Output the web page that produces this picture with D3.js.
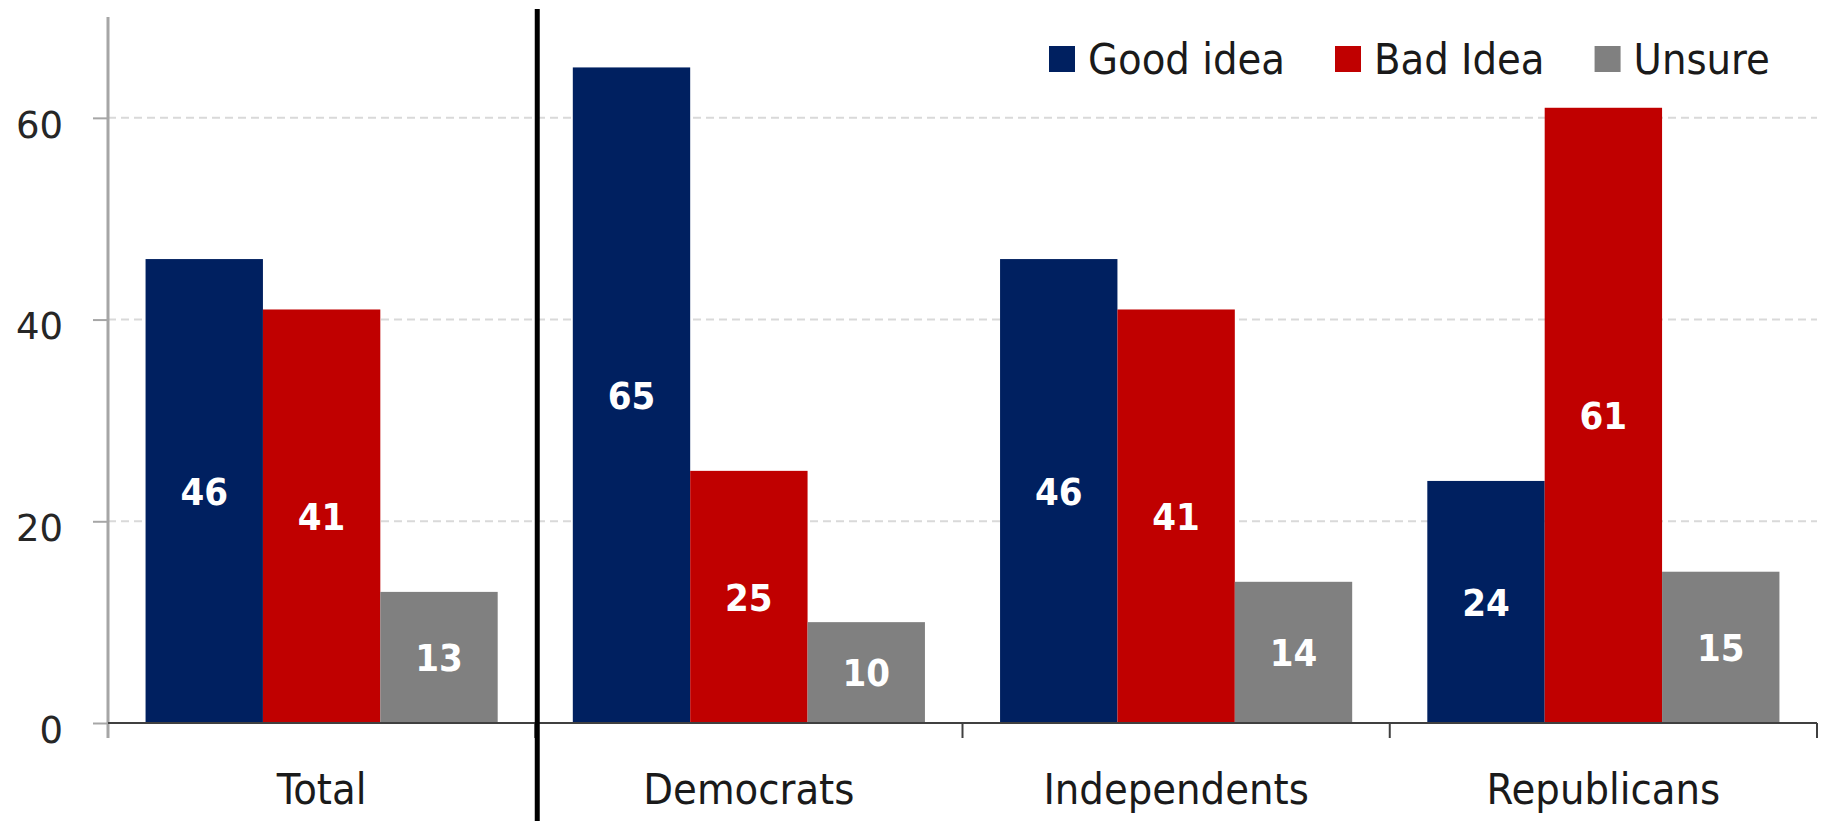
<!DOCTYPE html>
<html>
<head>
<meta charset="utf-8">
<script src="https://cdn.jsdelivr.net/npm/d3@7"></script>
<style>
  html, body { margin: 0; padding: 0; background: #ffffff; }
  svg { display: block; }
</style>
</head>
<body>
<svg id="chart" width="1823" height="821"></svg>
<script>
// Survey responses by party
const categories = ["Total", "Democrats", "Independents", "Republicans"];
const seriesNames = ["Good idea", "Bad Idea", "Unsure"];
const goodIdea = [46, 65, 46, 24];
const badIdea = [41, 25, 41, 61];
const unsure = [13, 10, 14, 15];
const yTicks = [0, 20, 40, 60];
const seriesColors = ["#002060", "#C00000", "#808080"];

const seriesValues = [goodIdea, badIdea, unsure];

const svg = d3.select("#chart");
const W = 1823, H = 821;
const margin = { left: 108, right: 6, top: 17, bottom: 98 };
const plotBottom = H - margin.bottom;   // y of zero line

const x0 = d3.scaleBand()
  .domain(categories)
  .range([margin.left, W - margin.right])
  .padding(0);

const x1 = d3.scaleBand()
  .domain(seriesNames)
  .range([0, x0.bandwidth()])
  .paddingInner(0)
  .paddingOuter(0.32);

const y = d3.scaleLinear()
  .domain([0, 70])
  .range([plotBottom, margin.top]);

const color = d3.scaleOrdinal().domain(seriesNames).range(seriesColors);

const labelFont = "'DejaVu Sans Condensed', 'DejaVu Sans', sans-serif";

// dashed horizontal gridlines
svg.append("g")
  .selectAll("line")
  .data(yTicks.filter(d => d > 0))
  .join("line")
  .attr("x1", margin.left)
  .attr("x2", W - margin.right)
  .attr("y1", d => y(d))
  .attr("y2", d => y(d))
  .attr("stroke", "#d9d9d9")
  .attr("stroke-width", 2)
  .attr("stroke-dasharray", "8,5");

// bars
const rows = categories.map((c, i) => ({
  category: c,
  values: seriesNames.map((s, j) => ({ series: s, value: seriesValues[j][i] }))
}));

const groups = svg.append("g")
  .selectAll("g")
  .data(rows)
  .join("g")
  .attr("transform", d => `translate(${x0(d.category)},0)`);

groups.selectAll("rect")
  .data(d => d.values)
  .join("rect")
  .attr("x", d => x1(d.series))
  .attr("width", x1.bandwidth())
  .attr("y", d => y(d.value))
  .attr("height", d => y(0) - y(d.value))
  .attr("fill", d => color(d.series));

// value labels centred inside each bar
groups.selectAll("text")
  .data(d => d.values)
  .join("text")
  .attr("x", d => x1(d.series) + x1.bandwidth() / 2)
  .attr("y", d => (y(d.value) + y(0)) / 2)
  .attr("dy", "0.36em")
  .attr("text-anchor", "middle")
  .attr("fill", "#ffffff")
  .attr("font-family", labelFont)
  .attr("font-weight", "bold")
  .attr("font-size", 38)
  .text(d => d.value);

// y axis
const yAxis = d3.axisLeft(y)
  .tickValues(yTicks)
  .tickSize(15)
  .tickPadding(30)
  .tickFormat(d3.format("d"));

const gy = svg.append("g")
  .attr("transform", `translate(${margin.left},0)`)
  .call(yAxis);
gy.select(".domain").remove();
gy.append("line")
  .attr("x1", 0).attr("x2", 0)
  .attr("y1", margin.top)
  .attr("y2", plotBottom + 15)
  .attr("stroke", "#a6a6a6")
  .attr("stroke-width", 3);
gy.selectAll(".tick line").attr("stroke", "#a6a6a6").attr("stroke-width", 2);
gy.selectAll(".tick text")
  .attr("fill", "#262626")
  .attr("font-family", "'DejaVu Sans', sans-serif")
  .attr("font-size", 37)
  .attr("dy", "0.52em");

// x axis: line with tick marks at group boundaries
const gx = svg.append("g");
gx.append("line")
  .attr("x1", margin.left)
  .attr("x2", W - margin.right)
  .attr("y1", plotBottom)
  .attr("y2", plotBottom)
  .attr("stroke", "#404040")
  .attr("stroke-width", 2);

const boundaries = categories.map(c => x0(c)).concat([x0(categories[categories.length - 1]) + x0.bandwidth()]);
gx.selectAll("line.tick")
  .data(boundaries.slice(1))
  .join("line")
  .attr("class", "tick")
  .attr("x1", d => d).attr("x2", d => d)
  .attr("y1", plotBottom)
  .attr("y2", plotBottom + 15)
  .attr("stroke", "#404040")
  .attr("stroke-width", 2);

gx.selectAll("text")
  .data(categories)
  .join("text")
  .attr("x", d => x0(d) + x0.bandwidth() / 2)
  .attr("y", 804)
  .attr("text-anchor", "middle")
  .attr("fill", "#1a1a1a")
  .attr("font-family", labelFont)
  .attr("font-size", 43)
  .text(d => d);

// bold divider between the total and the party breakdown
const dividerX = x0(categories[1]) + 2;
svg.append("line")
  .attr("x1", dividerX).attr("x2", dividerX)
  .attr("y1", 9).attr("y2", H)
  .attr("stroke", "#000000")
  .attr("stroke-width", 5);

// legend
const legend = svg.append("g").attr("transform", "translate(1049,59)");
let cursor = 0;
seriesNames.forEach(name => {
  const item = legend.append("g").attr("transform", `translate(${cursor},0)`);
  item.append("rect")
    .attr("x", 0).attr("y", -13)
    .attr("width", 26).attr("height", 26)
    .attr("fill", color(name));
  const t = item.append("text")
    .attr("x", 39)
    .attr("y", 0)
    .attr("dy", "0.36em")
    .attr("fill", "#1a1a1a")
    .attr("font-family", labelFont)
    .attr("font-size", 43)
    .text(name);
  cursor += 39 + t.node().getComputedTextLength() + 50;
});
</script>
</body>
</html>
